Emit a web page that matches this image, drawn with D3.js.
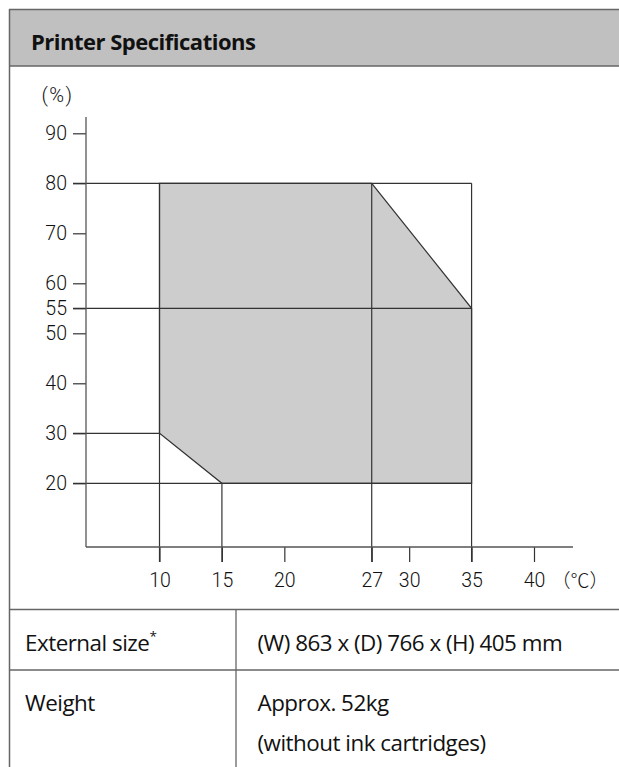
<!DOCTYPE html>
<html><head><meta charset="utf-8">
<script src="https://cdn.jsdelivr.net/npm/d3@7"></script>
<style>body{margin:0;background:#fff}svg{display:block}</style>
</head><body>
<script>
// ---- data ----
const title = "Printer Specifications";
const xTicks = [10, 15, 20, 27, 30, 35, 40];          // temperature (°C)
const yTicks = [90, 80, 70, 60, 55, 50, 40, 30, 20];  // humidity (%)
const regionTemp = [10, 27, 35, 35, 15, 10];
const regionHum  = [80, 80, 55, 20, 20, 30];
const hGuideHum = [80, 55, 30, 20];   // horizontal guide levels
const hGuideTo  = [35, 35, 10, 35];   // temperature where each ends
const vGuideTemp = [10, 15, 27, 35];  // vertical guide positions
const vGuideFrom = [80, 20, 80, 80];  // humidity where each starts
const rowLabels = ["External size", "Weight"];
const rowValues = [["(W) 863 x (D) 766 x (H) 405 mm"], ["Approx. 52kg", "(without ink cartridges)"]];

const W = 619, H = 767;
const svg = d3.select("body").append("svg").attr("width", W).attr("height", H);

const x = d3.scaleLinear().domain([10, 40]).range([159.5, 534]);
const y = d3.scaleLinear().domain([20, 80]).range([483.3, 183.3]);
const axisX = 86, axisY = 547, tickL = 13;
const ink = "#333";

// frame + header
svg.append("rect").attr("x", 9).attr("y", 9).attr("width", W).attr("height", 57).attr("fill", "#c0c0c0");
svg.append("line").attr("x1", 9).attr("x2", W).attr("y1", 9.5).attr("y2", 9.5).attr("stroke", "#666").attr("stroke-width", 1.5);
svg.append("line").attr("x1", 9).attr("x2", W).attr("y1", 66).attr("y2", 66).attr("stroke", "#666").attr("stroke-width", 1.3);
svg.append("line").attr("x1", 9.5).attr("x2", 9.5).attr("y1", 9).attr("y2", H).attr("stroke", "#666").attr("stroke-width", 1.5);
svg.append("text").attr("x", 31).attr("y", 50).text(title)
  .attr("font-family", "Open Sans").attr("font-weight", 700).attr("font-size", 22).attr("fill", "#111")
  .attr("letter-spacing", -0.5);

// region
svg.append("path")
  .attr("d", d3.line().x(d => x(d[0])).y(d => y(d[1]))(d3.zip(regionTemp, regionHum)) + "Z")
  .attr("fill", "#cdcdcd").attr("stroke", ink).attr("stroke-width", 1.2);

// guides
const g = svg.append("g").attr("stroke", ink).attr("stroke-width", 1.2);
hGuideHum.forEach((h, i) => {
  g.append("line").attr("x1", axisX - tickL).attr("x2", x(hGuideTo[i])).attr("y1", y(h)).attr("y2", y(h));
});
vGuideTemp.forEach((t, i) => {
  g.append("line").attr("x1", x(t)).attr("x2", x(t)).attr("y1", y(vGuideFrom[i])).attr("y2", axisY + 15);
});

// axes
const yAx = svg.append("g").attr("transform", `translate(${axisX},0)`)
  .call(d3.axisLeft(y).tickValues(yTicks).tickSize(tickL).tickPadding(6).tickFormat(d3.format("d")));
yAx.select(".domain").remove();
svg.append("line").attr("x1", axisX).attr("x2", axisX).attr("y1", 117).attr("y2", axisY).attr("stroke", "#555").attr("stroke-width", 1.3);

const xAx = svg.append("g").attr("transform", `translate(0,${axisY})`)
  .call(d3.axisBottom(x).tickValues(xTicks).tickSize(15).tickPadding(11).tickFormat(d3.format("d")));
xAx.select(".domain").remove();
svg.append("line").attr("x1", axisX).attr("x2", 573).attr("y1", axisY).attr("y2", axisY).attr("stroke", "#555").attr("stroke-width", 1.3);

svg.selectAll(".tick line").attr("stroke", ink).attr("stroke-width", 1.2);
svg.selectAll(".tick text").attr("font-family", "Roboto").attr("font-weight", 300)
  .attr("font-size", 19.5).attr("fill", "#111");

svg.append("text").attr("x", 57.5).attr("y", 101.5).attr("text-anchor", "middle").text("(%)")
  .attr("font-family", "Roboto").attr("font-weight", 300).attr("font-size", 20).attr("letter-spacing", 1.5).attr("fill", "#111");
svg.append("text").attr("x", 580).attr("y", 588).attr("text-anchor", "middle").text("（℃）")
  .attr("font-family", "Noto Sans CJK JP").attr("font-weight", 300).attr("font-size", 19).attr("fill", "#111");

// table
const tl = svg.append("g").attr("stroke", "#666").attr("stroke-width", 1.3);
tl.append("line").attr("x1", 9).attr("x2", W).attr("y1", 609.5).attr("y2", 609.5);
tl.append("line").attr("x1", 9).attr("x2", W).attr("y1", 670).attr("y2", 670);
tl.append("line").attr("x1", 236).attr("x2", 236).attr("y1", 609).attr("y2", H);

const rowBase = [651, 711];
const tf = "Open Sans";
const fs = 22.4;
rowLabels.forEach((lab, i) => {
  const t = svg.append("text").attr("x", 25).attr("y", rowBase[i]).attr("font-family", tf)
    .attr("font-size", fs).attr("fill", "#111").attr("letter-spacing", -0.5).text(lab);
  if (i === 0) t.append("tspan").attr("dy", -10).attr("font-size", 13.5).text("*");
  rowValues[i].forEach((v, j) => {
    svg.append("text").attr("x", 257.5).attr("y", rowBase[i] + j * 40).attr("font-family", tf)
      .attr("font-size", fs).attr("fill", "#111").attr("letter-spacing", -0.5).text(v);
  });
});
</script>
</body></html>
